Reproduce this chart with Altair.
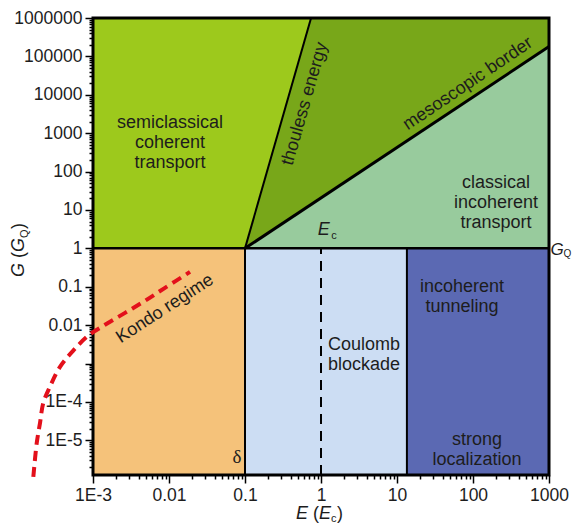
import altair as alt
import pandas as pd

# ---------------- data ----------------
X_MIN, X_MAX = 1e-3, 1e3
Y_MIN, Y_MAX = 1.25e-6, 1e6

# lower (G < G_Q) regions
low_name = ["Kondo", "Coulomb blockade", "incoherent tunneling"]
low_x0 = [1e-3, 0.1, 13.5]
low_x1 = [0.1, 13.5, 1e3]
low_color = ["#F5C27A", "#CCDDF3", "#5B69B3"]

# upper (G > G_Q) regions
lime_x0, lime_x1 = [1e-3], [1e3]
thouless_E = [0.1, 0.74, 1e3]
thouless_G = [1, 1e6, 1e6]
meso_E = [0.1, 1e3]
meso_G = [1, 1.8e5]

# boundary lines
line_x = [1e-3, 0.1, 13.5, 0.1, 0.1]
line_x2 = [1e3, 0.1, 13.5, 0.74, 1e3]
line_y = [1, Y_MIN, Y_MIN, 1, 1]
line_y2 = [1, 1, 1, 1e6, 1.8e5]
line_w = [2.5, 2, 2, 2, 3]

# Kondo crossover (red dashed)
kondo_E = [1.64e-4, 1.82e-4, 2.01e-4, 2.22e-4, 2.72e-4, 3.68e-4, 5.46e-4, 8.6e-4,
           1.44e-3, 2.64e-3, 4.83e-3, 8.85e-3, 1.89e-2]
kondo_G = [1.12e-6, 8.6e-6, 2.86e-5, 9.5e-5, 2.52e-4, 8.2e-4, 2.14e-3, 5.26e-3,
           1.02e-2, 2.09e-2, 4.3e-2, 9.36e-2, 0.244]

# annotations
ann_text = ["semiclassical\ncoherent\ntransport", "classical\nincoherent\ntransport",
            "thouless energy", "mesoscopic border", "Kondo regime",
            "Coulomb\nblockade", "incoherent\ntunneling", "strong\nlocalization"]
ann_E = [0.0103, 201, 0.615, 85.9, 0.00885, 3.68, 71.6, 113]
ann_G = [1854, 50.8, 5794, 19230, 0.0266, 0.00307, 0.0994, 1.03e-5]
ann_angle = [0, 0, 286, 326, 327, 0, 0, 0]

# ticks
x_major = [1e-3, 1e-2, 0.1, 1, 10, 100, 1000]
x_labels = ["1E-3", "0.01", "0.1", "1", "10", "100", "1000"]
y_major = [1e-5, 1e-4, 1e-3, 1e-2, 0.1, 1, 10, 100, 1000, 1e4, 1e5, 1e6]
y_labels = ["1E-5", "1E-4", "", "0.01", "0.1", "1", "10", "100", "1000", "10000", "100000", "1000000"]

FONT = "Liberation Sans"
TXT = "#1d1d1d"

def minor_ticks(lo, hi):
    out = []
    for e in range(-7, 7):
        for d in range(2, 10):
            v = d * 10.0 ** e
            if lo <= v <= hi:
                out.append(v)
    return out

def label_expr(vals, labs):
    s = "''"
    for v, l in zip(vals, labs):
        s = f"abs(datum.value/{v!r} - 1) < 1e-6 ? '{l}' : ({s})"
    return s

xscale = alt.Scale(type="log", domain=[X_MIN, X_MAX], nice=False)
yscale = alt.Scale(type="log", domain=[Y_MIN, Y_MAX], nice=False)

common = dict(title=None, grid=False, domain=False, labelOverlap=False, labelFlush=False,
              tickWidth=1.5, tickColor="black", labelFont=FONT, labelFontSize=17.5,
              labelColor=TXT)
xaxis = alt.Axis(orient="bottom", values=x_major, labelExpr=label_expr(x_major, x_labels),
                 tickSize=8, labelPadding=3, **common)
yaxis = alt.Axis(orient="left", values=y_major, labelExpr=label_expr(y_major, y_labels),
                 tickSize=8, labelPadding=3, **common)
xaxis_minor = alt.Axis(orient="bottom", values=minor_ticks(X_MIN, X_MAX), labels=False,
                       tickSize=4, title=None, grid=False, domain=False, tickWidth=1.5,
                       tickColor="black")
yaxis_minor = alt.Axis(orient="left", values=minor_ticks(Y_MIN, Y_MAX), labels=False,
                       tickSize=4, title=None, grid=False, domain=False, tickWidth=1.5,
                       tickColor="black")

def X(f):
    return alt.X(f, type="quantitative", scale=xscale, axis=xaxis)

def Y(f):
    return alt.Y(f, type="quantitative", scale=yscale, axis=yaxis)

low_df = pd.DataFrame({"name": low_name, "x0": low_x0, "x1": low_x1,
                       "y0": [Y_MIN] * 3, "y1": [1] * 3, "c": low_color})
low = alt.Chart(low_df).mark_rect(strokeWidth=0).encode(
    x=X("x0"), x2="x1", y=Y("y0"), y2="y1", color=alt.Color("c:N", scale=None))

lime_df = pd.DataFrame({"x0": lime_x0, "x1": lime_x1, "y0": [1], "y1": [Y_MAX]})
lime = alt.Chart(lime_df).mark_rect(color="#9DC91C", strokeWidth=0).encode(
    x=X("x0"), x2="x1", y=Y("y0"), y2="y1")

dg_df = pd.DataFrame({"E": thouless_E, "G": thouless_G, "G0": [1] * 3})
dgreen = alt.Chart(dg_df).mark_area(color="#78A719", opacity=1).encode(
    x=X("E"), y=Y("G"), y2="G0")

lg_df = pd.DataFrame({"E": meso_E, "G": meso_G, "G0": [1] * 2})
lgreen = alt.Chart(lg_df).mark_area(color="#98CB9D", opacity=1).encode(
    x=X("E"), y=Y("G"), y2="G0")

lines_df = pd.DataFrame({"x": line_x, "x2": line_x2, "y": line_y, "y2": line_y2, "w": line_w})
lines = alt.Chart(lines_df).mark_rule(color="black", strokeCap="butt").encode(
    x=X("x"), x2="x2", y=Y("y"), y2="y2", strokeWidth=alt.StrokeWidth("w:Q", scale=None))

dash_df = pd.DataFrame({"x": [1], "y": [Y_MIN], "y2": [1]})
dash = alt.Chart(dash_df).mark_rule(color="black", strokeWidth=2, strokeDash=[10, 7]).encode(
    x=X("x"), y=Y("y"), y2="y2")

frame_df = pd.DataFrame({"x0": [X_MIN], "x1": [X_MAX], "y0": [Y_MIN], "y1": [Y_MAX]})
frame = alt.Chart(frame_df).mark_rect(filled=False, stroke="black", strokeWidth=3).encode(
    x=X("x0"), x2="x1", y=Y("y0"), y2="y1")

kondo_df = pd.DataFrame({"E": kondo_E, "G": kondo_G})
kondo = alt.Chart(kondo_df).mark_line(color="#E3101B", strokeWidth=4, strokeDash=[10, 6],
                                      interpolate="catmull-rom", clip=False).encode(
    x=X("E"), y=Y("G"))

ann_df = pd.DataFrame({"t": ann_text, "E": ann_E, "G": ann_G, "a": ann_angle})
ann = alt.Chart(ann_df).mark_text(font=FONT, fontSize=18, color=TXT, lineBreak="\n",
                                  lineHeight=20, align="center", baseline="middle").encode(
    x=X("E"), y=Y("G"), text="t:N", angle=alt.Angle("a:Q", scale=None))

# symbols with italics / subscripts
sym_t = ["E", "c", "G", "Q", "δ"]
sym_E = [1.09, 1.48, 1274, 1750, 0.0785]
sym_G = [3.03, 2.12, 0.914, 0.70, 3.72e-6]
sym_size = [18, 11, 17, 10, 19]
sym_style = ["italic", "normal", "italic", "normal", "normal"]
sym_font = [FONT, FONT, FONT, FONT, "Liberation Serif"]
sym_df = pd.DataFrame({"t": sym_t, "E": sym_E, "G": sym_G})
syms = []
for i in range(len(sym_t)):
    syms.append(alt.Chart(sym_df.iloc[[i]]).mark_text(
        font=sym_font[i], fontSize=sym_size[i], fontStyle=sym_style[i], color=TXT,
        align="center", baseline="middle").encode(x=X("E"), y=Y("G"), text="t:N"))

# axis titles built from pieces (italic symbols, subscripts)
def piece(t, x, y, size=18, style="normal", angle=0):
    return alt.Chart(pd.DataFrame({"t": [t]})).mark_text(
        font=FONT, fontSize=size, fontStyle=style, color=TXT, align="left",
        baseline="alphabetic", angle=angle).encode(
        x=alt.value(x), y=alt.value(y), text="t:N")

TY = 501
xt = [piece("E", 203, TY, style="italic"), piece("(", 220, TY),
      piece("E", 226, TY, style="italic"), piece("c", 238, TY + 3, size=11),
      piece(")", 244, TY)]
TX = -69
yt = [piece("G", TX, 259, style="italic", angle=270), piece("(", TX, 240, angle=270),
      piece("G", TX, 234, style="italic", angle=270), piece("Q", TX + 4, 220, size=11, angle=270),
      piece(")", TX, 211, angle=270)]

main = alt.layer(low, lime, dgreen, lgreen, lines, dash, frame, kondo, ann, *syms, *xt, *yt)

minor = alt.Chart(frame_df).mark_point(opacity=0).encode(
    x=alt.X("x0:Q", scale=xscale, axis=xaxis_minor),
    y=alt.Y("y0:Q", scale=yscale, axis=yaxis_minor))

chart = alt.layer(main, minor).resolve_axis(x="independent", y="independent").properties(
    width=456, height=457,
    padding={"left": 85, "top": 10, "right": 23, "bottom": 49},
    autosize=alt.AutoSizeParams(type="none"),
).configure_view(stroke=None)

chart.save("out.html", embed_options={"renderer": "svg", "actions": False})
